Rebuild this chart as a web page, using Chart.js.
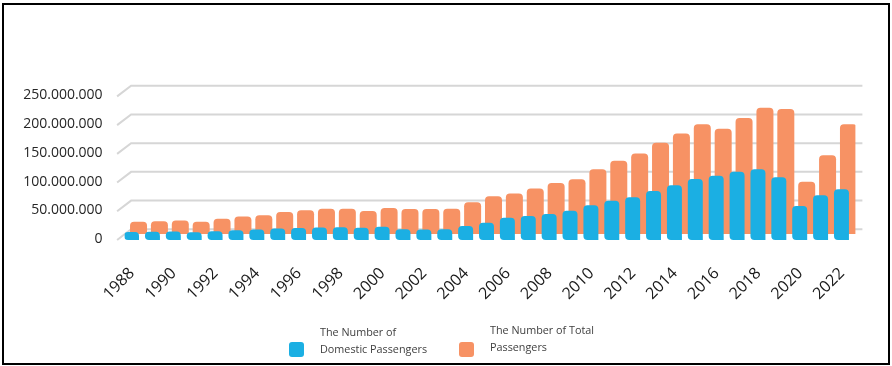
<!DOCTYPE html>
<html>
<head>
<meta charset="utf-8">
<script src="https://cdn.jsdelivr.net/npm/chart.js@4/dist/chart.umd.min.js"></script>
<style>
  body { margin: 0; background: #fff; }
  #wrap { position: relative; width: 892px; height: 366px; }
  #frame { position: absolute; left: 2px; top: 3px; width: 884px; height: 358px; border: 2px solid #000; pointer-events: none; }
  .leg { position: absolute; font-family: "Open Sans", sans-serif; font-size: 10.8px; line-height: 17px; color: #404040; white-space: nowrap; }
  .box { position: absolute; width: 15px; height: 15px; border-radius: 3px; }
</style>
</head>
<body>
<div id="wrap">
  <canvas id="chart" width="892" height="366"></canvas>
  <div class="box" style="left:289px; top:342px; background:#1bafe3;"></div>
  <div class="leg" style="left:320px; top:323px;">The Number of<br>Domestic Passengers</div>
  <div class="box" style="left:459px; top:342px; background:#f79264;"></div>
  <div class="leg" style="left:490px; top:321px;">The Number of Total<br>Passengers</div>
  <div id="frame"></div>
</div>
<script>
// years on the x axis
const years = [];
for (let y = 1988; y <= 2022; y++) years.push(String(y));

// passengers, millions
const domestic = [4.5, 4.8, 5.5, 4.2, 5.8, 7.5, 9.0, 10.5, 11.5, 12.5, 13.0, 12.0, 13.5, 9.5, 9.0,
  9.2, 15.0, 20.7, 29.4, 32.4, 35.9, 41.6, 51.0, 59.0, 64.9, 75.9, 85.8, 96.8, 102.5, 109.5,
  113.7, 99.8, 49.8, 68.4, 78.9];
const total = [13.2, 14.0, 15.5, 13.0, 18.5, 22.5, 24.5, 30.0, 33.0, 36.0, 36.0, 32.0, 37.0, 35.5, 35.5,
  36.0, 47.0, 57.5, 62.5, 71.0, 80.5, 87.0, 104.5, 119.5, 132.0, 150.5, 167.0, 183.0, 175.0, 194.0,
  211.5, 209.5, 83.0, 129.0, 183.0];

const yTicks = [0, 50000000, 100000000, 150000000, 200000000, 250000000];

const M = 1000000;
function fmt(v) {
  return String(v).replace(/\B(?=(\d{3})+(?!\d))/g, '.');
}

// back-plane gridlines with the little diagonal at the left
const grid3d = {
  id: 'grid3d',
  beforeDatasetsDraw(chart) {
    const ctx = chart.ctx;
    const area = chart.chartArea;
    const back = chart.scales.yO;
    const front = chart.scales.yL;
    ctx.save();
    ctx.strokeStyle = '#d6d6d6';
    ctx.lineWidth = 2;
    yTicks.forEach(v => {
      const yb = back.getPixelForValue(v);
      const yf = front.getPixelForValue(v) + 1;
      ctx.beginPath();
      ctx.moveTo(area.left - 7.5, yf);
      ctx.lineTo(area.left + 6.5, yb);
      ctx.lineTo(area.right + 7, yb);
      ctx.stroke();
    });
    ctx.restore();
  }
};

new Chart(document.getElementById('chart'), {
  type: 'bar',
  data: {
    labels: years,
    datasets: [{
      label: 'The Number of Domestic Passengers',
      data: domestic.map(v => v * M),
      backgroundColor: '#1bafe3',
      yAxisID: 'yB',
      base: -9.4 * M,
      categoryPercentage: 0.67,
      barPercentage: 2.14,
      borderSkipped: false,
      borderRadius: { topLeft: 4, topRight: 4, bottomLeft: 4, bottomRight: 0 },
    }, {
      label: 'The Number of Total Passengers',
      data: total.map(v => v * M),
      backgroundColor: '#f79264',
      yAxisID: 'yO',
      base: -8.2 * M,
      categoryPercentage: 0.67,
      barPercentage: 2.43,
      borderRadius: 4,
    }]
  },
  options: {
    responsive: false,
    animation: false,
    layout: { padding: { left: 0, top: 86, right: 36.6, bottom: 60 } },
    plugins: { legend: { display: false }, tooltip: { enabled: false } },
    scales: {
      x: {
        grid: { display: false },
        border: { display: false },
        afterFit(scale) { scale.height = 66; },
        ticks: {
          autoSkip: false,
          minRotation: 45,
          maxRotation: 45,
          padding: 16,
          labelOffset: -3,
          color: '#1a1a1a',
          font: { family: 'Open Sans', size: 16 },
          callback(val, i) { return i % 2 === 0 ? years[i] : ''; }
        }
      },
      yL: {
        position: 'left',
        min: -1.74 * M,
        max: 266.4 * M,
        afterFit(scale) { scale.width = 124.6; },
        afterBuildTicks(scale) { scale.ticks = yTicks.map(v => ({ value: v })); },
        grid: { display: false, drawTicks: false },
        border: { display: false },
        ticks: {
          padding: 22,
          color: '#262626',
          font: { family: 'Open Sans', size: 14 },
          callback(v) { return fmt(v); }
        }
      },
      yB: { display: false, min: -9.4 * M, max: 258.7 * M },
      yO: { display: false, min: -18.6 * M, max: 249.5 * M }
    }
  },
  plugins: [grid3d]
});
</script>
</body>
</html>
